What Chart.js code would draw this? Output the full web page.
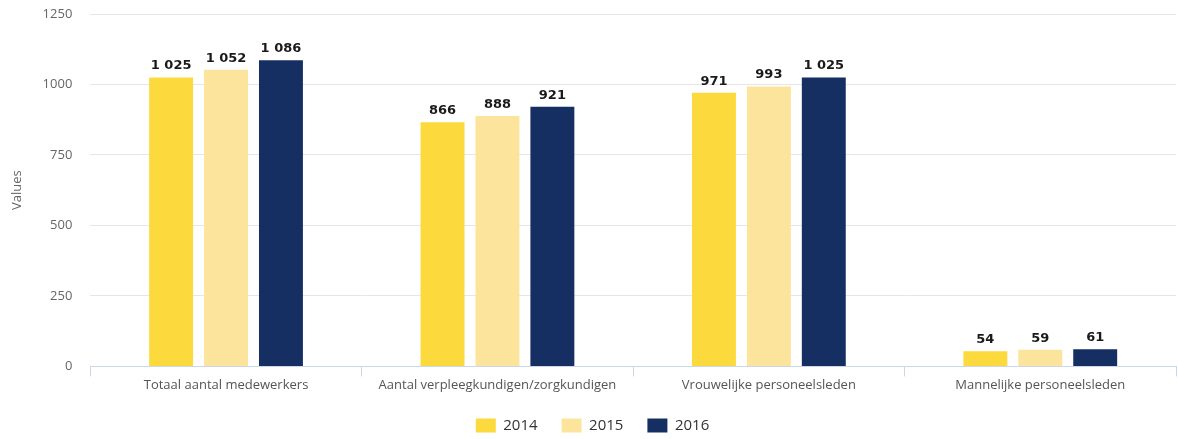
<!DOCTYPE html>
<html>
<head>
<meta charset="utf-8">
<script src="https://cdn.jsdelivr.net/npm/chart.js@4"></script>
<style>
    html, body { margin: 0; padding: 0; background: #fff; }
    #wrap { width: 1178px; height: 439px; }
</style>
</head>
<body>
<div id="wrap"><canvas id="personeelChart"></canvas></div>
<script>
// ========== DATOS ==========
const categorieen = [
    'Totaal aantal medewerkers',
    'Aantal verpleegkundigen/zorgkundigen',
    'Vrouwelijke personeelsleden',
    'Mannelijke personeelsleden'
];
const jaren = ['2014', '2015', '2016'];
const waarden2014 = [1025, 866, 971, 54];
const waarden2015 = [1052, 888, 993, 59];
const waarden2016 = [1086, 921, 1025, 61];
const kleuren = ['#fcd93c', '#fde49c', '#152f63'];

// getal met spatie als duizendtal-scheiding
function formatGetal(n) {
    return String(n).replace(/\B(?=(\d{3})+(?!\d))/g, ' ');
}

// Plugin voor labels boven de balken
const balkLabels = {
    id: 'balkLabels',
    afterDatasetsDraw(chart) {
        const ctx = chart.ctx;
        ctx.save();
        ctx.font = 'bold 13px "DejaVu Sans", sans-serif';
        ctx.fillStyle = '#1a1a1a';
        ctx.textAlign = 'center';
        ctx.textBaseline = 'bottom';
        chart.data.datasets.forEach((ds, i) => {
            const meta = chart.getDatasetMeta(i);
            meta.data.forEach((bar, j) => {
                ctx.fillText(formatGetal(ds.data[j]), bar.x, bar.y - 5);
            });
        });
        ctx.restore();
    }
};

const reeksen = [waarden2014, waarden2015, waarden2016];

new Chart(document.getElementById('personeelChart').getContext('2d'), {
    type: 'bar',
    data: {
        labels: categorieen,
        datasets: jaren.map((jaar, i) => ({
            label: jaar,
            data: reeksen[i],
            backgroundColor: kleuren[i],
            categoryPercentage: 0.607,
            barPercentage: 0.8
        }))
    },
    options: {
        responsive: true,
        maintainAspectRatio: false,
        animation: false,
        layout: { padding: { top: 14, right: 2, left: 9, bottom: -4 } },
        plugins: {
            legend: {
                position: 'bottom',
                labels: {
                    boxWidth: 20,
                    boxHeight: 14,
                    padding: 24,
                    color: '#333',
                    font: { size: 15, family: '"Open Sans", sans-serif' }
                }
            },
            tooltip: { enabled: false }
        },
        scales: {
            y: {
                min: 0,
                max: 1250,
                afterFit: scale => { scale.paddingTop = 0; },
                ticks: {
                    stepSize: 250,
                    color: '#666',
                    padding: 18,
                    callback: v => String(v),
                    font: { size: 13, family: '"Open Sans", sans-serif' }
                },
                grid: { color: '#e6e6e6', drawTicks: false },
                border: { display: false },
                title: {
                    display: true,
                    text: 'Values',
                    color: '#666',
                    padding: { top: 0, bottom: 0 },
                    font: { size: 13, family: '"Open Sans", sans-serif' }
                }
            },
            x: {
                ticks: {
                    color: '#555',
                    padding: 1,
                    font: { size: 13, family: '"Open Sans", sans-serif' },
                    maxRotation: 0
                },
                grid: {
                    drawOnChartArea: false,
                    tickLength: 10,
                    color: '#ccd6eb'
                },
                border: { color: '#ccd6eb' }
            }
        }
    },
    plugins: [balkLabels]
});
</script>
</body>
</html>
